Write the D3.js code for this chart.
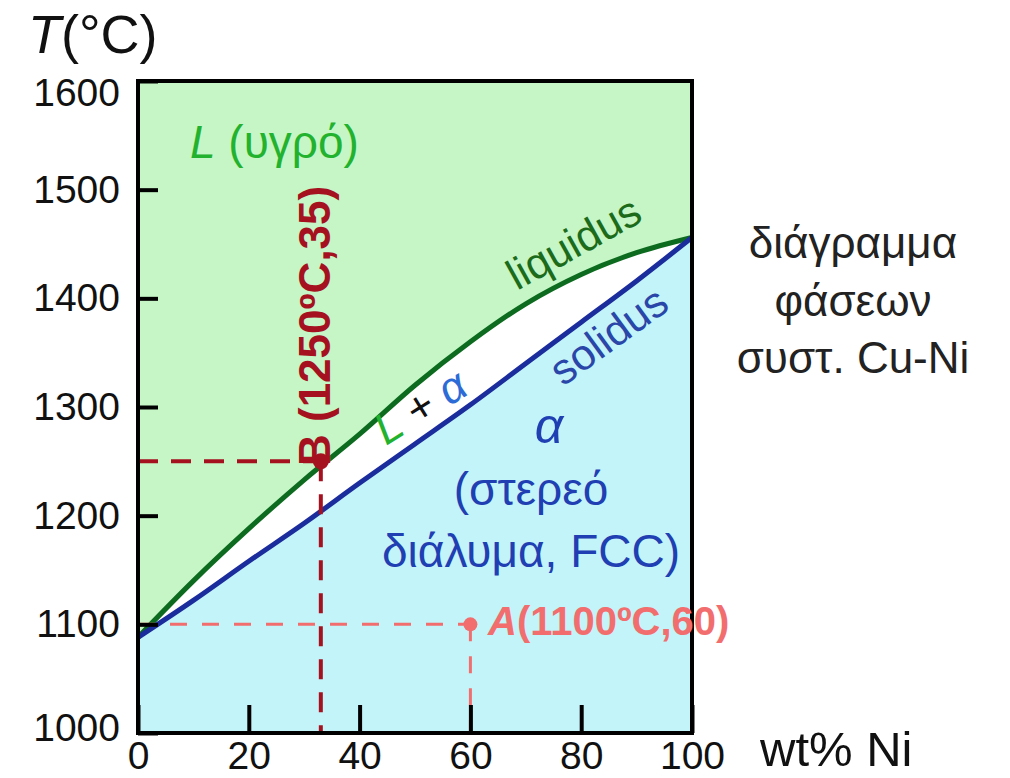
<!DOCTYPE html>
<html>
<head>
<meta charset="utf-8">
<script src="https://cdn.jsdelivr.net/npm/d3@7"></script>
<style>
  body { margin: 0; background: #fff; }
  svg { font-family: "Liberation Sans", Arial, sans-serif; }
</style>
</head>
<body>
<svg id="chart" width="1010" height="778"></svg>
<script>
// composition (wt% Ni) and phase boundary temperatures
const composition = [0, 10, 20, 30, 40, 50, 60, 70, 80, 90, 100];
const liquidusT = [1088, 1140, 1188, 1233, 1275, 1320, 1360, 1395, 1422, 1442, 1456];
const solidusT  = [1088, 1122, 1158, 1193, 1230, 1266, 1302, 1340, 1378, 1416, 1456];

const xTicks = [0, 20, 40, 60, 80, 100];
const yTicks = [1000, 1100, 1200, 1300, 1400, 1500, 1600];

// marked states A and B
const pointNames = ['A', 'B'];
const pointComp = [60, 33];
const pointTemp = [1100, 1250];

const svg = d3.select('#chart');

const x = d3.scaleLinear().domain([0, 100]).range([138, 692]);
const y = d3.scaleLinear().domain([1000, 1600]).range([733, 81]);

const rows = composition.map((c, i) => ({ c: c, liq: liquidusT[i], sol: solidusT[i] }));

// phase regions
svg.append('path').datum(rows)
    .attr('fill', '#c6f6c6')
    .attr('d', d3.area().x(d => x(d.c)).y0(y(1600)).y1(d => y(d.liq)).curve(d3.curveMonotoneX));

svg.append('path').datum(rows)
    .attr('fill', '#c3f4f9')
    .attr('d', d3.area().x(d => x(d.c)).y0(y(1000)).y1(d => y(d.sol)).curve(d3.curveMonotoneX));

// boundaries
svg.append('path').datum(rows)
    .attr('fill', 'none').attr('stroke', '#0d6b1f').attr('stroke-width', 5)
    .attr('d', d3.line().x(d => x(d.c)).y(d => y(d.liq)).curve(d3.curveMonotoneX));

svg.append('path').datum(rows)
    .attr('fill', 'none').attr('stroke', '#1b2c9c').attr('stroke-width', 5)
    .attr('d', d3.line().x(d => x(d.c)).y(d => y(d.sol)).curve(d3.curveMonotoneX));

// guide lines to the two states
const pointColors = { A: '#f26e6e', B: '#a5111f' };
const pointDash = { A: '17,15', B: '20,13' };
const pointWidth = { A: 3, B: 4 };

pointNames.forEach((name, i) => {
    const px = x(pointComp[i]);
    const py = y(pointTemp[i]);
    svg.append('line')
        .attr('x1', x(0)).attr('x2', px).attr('y1', py).attr('y2', py)
        .attr('stroke', pointColors[name]).attr('stroke-width', pointWidth[name])
        .attr('stroke-dasharray', pointDash[name]);
    svg.append('line')
        .attr('x1', px).attr('x2', px).attr('y1', py).attr('y2', y(1000))
        .attr('stroke', pointColors[name]).attr('stroke-width', pointWidth[name])
        .attr('stroke-dasharray', pointDash[name]);
    svg.append('circle')
        .attr('cx', px).attr('cy', py).attr('r', name === 'B' ? 8 : 7)
        .attr('fill', pointColors[name]);
});

// frame
svg.append('rect')
    .attr('x', x(0)).attr('y', y(1600))
    .attr('width', x(100) - x(0)).attr('height', y(1000) - y(1600))
    .attr('fill', 'none').attr('stroke', '#000').attr('stroke-width', 4);

// axes with inward ticks
const xAxis = svg.append('g')
    .attr('transform', `translate(0,${y(1000)})`)
    .call(d3.axisBottom(x).tickValues(xTicks).tickFormat(d3.format('d')).tickSize(-28).tickPadding(8));
const yAxis = svg.append('g')
    .attr('transform', `translate(${x(0)},0)`)
    .call(d3.axisLeft(y).tickValues(yTicks).tickFormat(d3.format('d')).tickSize(-20).tickPadding(18));

[xAxis, yAxis].forEach(g => {
    g.select('.domain').remove();
    g.selectAll('.tick line').attr('stroke', '#000').attr('stroke-width', 4);
    g.selectAll('.tick text').attr('font-size', 39).attr('fill', '#111')
        .attr('font-family', '"Liberation Sans", Arial, sans-serif');
});
yAxis.selectAll('.tick').filter(d => d === 1600).select('text').attr('dy', '0.62em');
yAxis.selectAll('.tick').filter(d => d === 1000).select('text').attr('dy', '0.2em');

// axis titles
const tTitle = svg.append('text').attr('x', 28).attr('y', 53).attr('font-size', 54).attr('fill', '#111');
tTitle.append('tspan').attr('font-style', 'italic').text('T');
tTitle.append('tspan').text('(°C)');

svg.append('text').attr('x', 760).attr('y', 766).attr('font-size', 49).attr('fill', '#111').text('wt% Ni');

// region labels
const liq = svg.append('text').attr('x', 190).attr('y', 158).attr('font-size', 46).attr('fill', '#22b22e');
liq.append('tspan').attr('font-style', 'italic').text('L');
liq.append('tspan').text(' (υγρό)');

svg.append('text').attr('x', 549).attr('y', 443).attr('font-size', 50)
    .attr('font-style', 'italic').attr('text-anchor', 'middle').attr('fill', '#1f3fb3').text('α');
svg.append('text').attr('x', 531).attr('y', 505).attr('font-size', 46)
    .attr('text-anchor', 'middle').attr('fill', '#1f3fb3').text('(στερεό');
svg.append('text').attr('x', 531).attr('y', 567).attr('font-size', 46)
    .attr('text-anchor', 'middle').attr('fill', '#1f3fb3').text('διάλυμα, FCC)');

// curve labels
svg.append('text').attr('transform', 'translate(517,291) rotate(-29)')
    .attr('font-size', 43).attr('fill', '#1b6b1b').text('liquidus');
svg.append('text').attr('transform', 'translate(563,387) rotate(-36)')
    .attr('font-size', 43).attr('fill', '#2a46a8').text('solidus');

const two = svg.append('text').attr('transform', 'translate(386,446) rotate(-32)')
    .attr('font-size', 44);
two.append('tspan').attr('font-style', 'italic').attr('fill', '#22b22e').text('L');
two.append('tspan').attr('fill', '#111').text(' + ');
two.append('tspan').attr('font-style', 'italic').attr('fill', '#2d6bd6').text('α');

// point labels
const aLab = svg.append('text').attr('x', 488).attr('y', 635)
    .attr('font-size', 40).attr('font-weight', 'bold').attr('fill', pointColors.A);
aLab.append('tspan').attr('font-style', 'italic').text('A');
aLab.append('tspan').text('(1100ºC,60)');

svg.append('text').attr('transform', 'translate(330,466) rotate(-90)')
    .attr('font-size', 44).attr('font-weight', 'bold').attr('fill', pointColors.B)
    .text('B (1250ºC,35)');

// side caption
const captionLines = ['διάγραμμα', 'φάσεων', 'συστ. Cu-Ni'];
svg.append('g').selectAll('text').data(captionLines).join('text')
    .attr('x', 853).attr('y', (d, i) => 258 + i * 57.5)
    .attr('font-size', 44).attr('text-anchor', 'middle').attr('fill', '#222')
    .text(d => d);
</script>
</body>
</html>
